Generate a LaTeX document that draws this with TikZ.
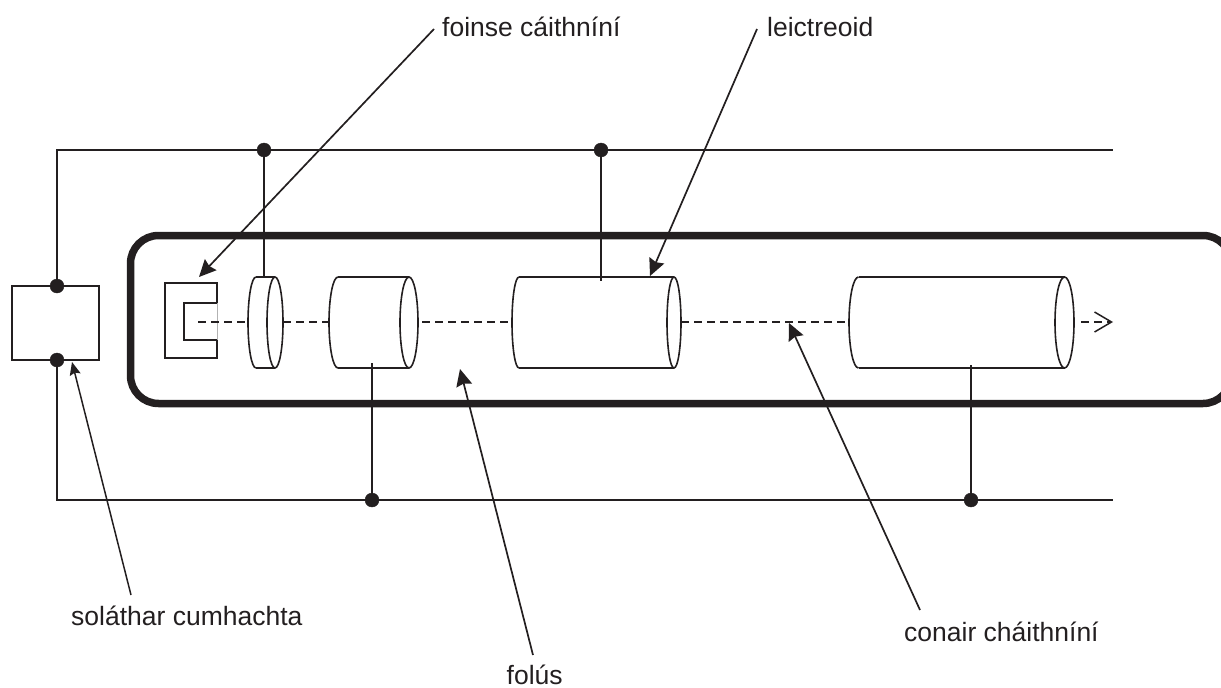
\documentclass[tikz,border=0pt]{standalone}
\usepackage{fontspec}
\setmainfont{Liberation Sans}
\usetikzlibrary{arrows.meta}
\definecolor{ink}{HTML}{231F20}
% left edge, centre of right ellipse, its x radius
\newcommand{\cylinder}[3]{
	\draw[part] (#1+#3,277) -- (#2,277);
	\draw[part] (#1+#3,368) -- (#2,368);
	\draw[part] (#1+#3,277) arc[start angle=90, end angle=270, x radius=#3pt, y radius=45.5pt];
	\draw[part] (#2,322.5) ellipse [x radius=#3pt, y radius=45.5pt];
}
\begin{document}
\begin{tikzpicture}
		[x=1pt, y=-1pt, color=ink,
		wire/.style = {line width=1.6pt},
		part/.style = {line width=1.6pt},
		tube/.style = {line width=7.5pt, rounded corners=28pt},
		beam/.style = {line width=1.6pt, dash pattern=on 7.5pt off 5.5pt},
		lead/.style = {line width=1.7pt, -{Stealth[length=17pt, width=16pt, inset=2pt]}},
		lead2/.style = {line width=1.5pt, -{Stealth[length=13pt, width=11pt, inset=2pt]}},
		main/.style = {font=\fontsize{26.5}{30}\selectfont, inner sep=0pt},
		dot/.style = {draw, fill, circle, inner sep=0pt, minimum size=14pt}]
	\useasboundingbox (0,0) rectangle (1221,688);
	\clip (0,0) rectangle (1221,688);
	\node[main, anchor=base west] (source) at (442,36) {foinse cáithníní};
	\node[main, anchor=base west] (electrode) at (767,36) {leictreoid};
	\node[main, anchor=base west] (supply) at (71,625) {soláthar cumhachta};
	\node[main, anchor=base west] (vacuum) at (506.5,684) {folús};
	\node[main, anchor=base west] (path) at (904,641) {conair cháithníní};
	\draw[tube] (130.5,235.5) rectangle (1231,403.5);
	\draw[part] (12,286) rectangle (99,360);
	\node[dot] (a) at (57,286) {};
	\node[dot] (b) at (57,360) {};
	\node[dot] (c) at (264,150) {};
	\node[dot] (d) at (601,150) {};
	\node[dot] (e) at (372,500) {};
	\node[dot] (f) at (971,500) {};
	\coordinate (topend) at (1113,150);
	\coordinate (botend) at (1113,500);
	\coordinate (g) at (264,277);
	\coordinate (h) at (601,281);
	\coordinate (i) at (372,363);
	\coordinate (j) at (971,365);
	\draw[wire] (a) |- (topend);
	\draw[wire] (b) |- (botend);
	\draw[wire] (c) -- (g);
	\draw[wire] (d) -- (h);
	\draw[wire] (e) -- (i);
	\draw[wire] (f) -- (j);
	% electron gun
	\draw[part] (217,303) -- (184,303) -- (184,340) -- (217,340) -- (217,358) -- (165,358) -- (165,283) -- (217,283) -- cycle;
	\draw[line width=0.4pt, gray!60] (217,303) -- (217,340);
	\cylinder{248}{275}{8}
	\cylinder{329}{409}{9}
	\cylinder{512}{674}{7}
	\cylinder{849}{1064.5}{9.5}
	\coordinate (b1) at (198,322);
	\coordinate (b2) at (248,322);
	\coordinate (b3) at (283,322);
	\coordinate (b4) at (329,322);
	\coordinate (b5) at (422,322);
	\coordinate (b6) at (512,322);
	\coordinate (b7) at (681,322);
	\coordinate (b8) at (849,322);
	\coordinate (b9) at (1081,322);
	\coordinate (b10) at (1113,322);
	\draw[beam] (b1) -- (b2);
	\draw[beam] (b3) -- (b4);
	\draw[beam] (b5) -- (b6);
	\draw[beam] (b7) -- (b8);
	\draw[beam, -{Straight Barb[length=17pt, width=20pt, line width=1.5pt]}] (b9) -- (b10);
	% leaders
	\coordinate (s1) at (434,29);
	\coordinate (s2) at (199,277);
	\coordinate (e1) at (757,29);
	\coordinate (e2) at (650,276);
	\coordinate (p1) at (131,595);
	\coordinate (p2) at (72,362);
	\coordinate (v1) at (533,655);
	\coordinate (v2) at (460,369);
	\coordinate (n1) at (920,610);
	\coordinate (n2) at (789,323);
	\draw[lead] (s1) -- (s2);
	\draw[lead] (e1) -- (e2);
	\draw[lead2] (p1) -- (p2);
	\draw[lead] (v1) -- (v2);
	\draw[lead] (n1) -- (n2);
\end{tikzpicture}
\end{document}
